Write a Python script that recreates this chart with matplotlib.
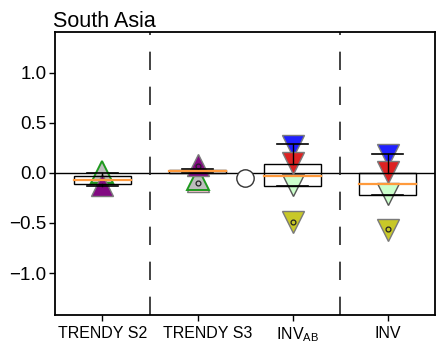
import matplotlib
matplotlib.use("Agg")
import matplotlib.pyplot as plt
import matplotlib.patches as mpatches
import matplotlib.transforms as mtransforms

plt.rcParams['font.family'] = ['Liberation Sans', 'DejaVu Sans']
plt.rcParams['mathtext.fontset'] = 'custom'
plt.rcParams['mathtext.rm'] = 'Liberation Sans'

# Categories and tick labels
categories = ['TRENDY S2', 'TRENDY S3', r'INV$_{\mathregular{AB}}$', 'INV']
cat_x = [1, 2, 3, 4]
ytick_vals = [-1.0, -0.5, 0.0, 0.5, 1.0]
ytick_labels = ['\u22121.0', '\u22120.5', '0.0', '0.5', '1.0']

# Box statistics per category
box_q1 = [-0.11, 0.0, -0.13, -0.22]
box_q3 = [-0.035, 0.025, 0.085, 0.0]
box_med = [-0.075, 0.013, -0.03, -0.115]
whisk_lo = [-0.135, -0.005, -0.13, -0.225]
whisk_hi = [0.0, 0.04, 0.285, 0.185]

# Up-triangle markers (land model runs)
up_x = [1, 2]
pink_y = [None, -0.08]
green_y = [0.005, -0.06]
purple_y = [-0.125, 0.08]

# Down-triangle markers (inversions)
down_x = [3, 4]
lightgreen_y = [-0.12, -0.215]
red_y = [0.095, 0.005]
blue_y = [0.27, 0.18]
olive_y = [-0.49, -0.575]

# Small open circles inside markers
dot_x = [2, 2, 3, 4]
dot_y = [0.065, -0.105, -0.495, -0.565]

# Large open circle between groups
circle_x = [2.5]
circle_y = [-0.055]

fig = plt.figure(figsize=(4.36, 3.44), dpi=100)
ax = fig.add_axes([0.126, 0.084, 0.872, 0.823])

ax.set_xlim(0.5, 4.5)
ax.set_ylim(-1.42, 1.405)

ax.axhline(0, color='black', lw=1.0, zorder=1)
for xv in (1.5, 3.5):
    ax.axvline(xv, color='#222222', lw=1.2, dashes=(11, 10), zorder=1)

ms = 15.5
edge = '#7a7a7a'

def tri(xs, ys, marker, face, ec=edge, mew=1.0, z=3):
    pts = [(x, y) for x, y in zip(xs, ys) if y is not None]
    if not pts:
        return
    px, py = zip(*pts)
    ax.plot(px, py, linestyle='none', marker=marker, ms=ms, mfc=face,
            mec=ec, mew=mew, zorder=z)

tri(up_x, pink_y, '^', '#ffc6d0', z=3)
tri(up_x, green_y, '^', '#bdbdbd', ec='#1f9a1f', mew=1.4, z=3.1)
tri(up_x, purple_y, '^', '#820a82', z=3.2)

tri(down_x, olive_y, 'v', '#c8c828', z=3)
tri(down_x, lightgreen_y, 'v', '#ccffcc', ec='#555555', z=3.1)
tri(down_x, blue_y, 'v', '#2020ff', z=3.2)
tri(down_x, red_y, 'v', '#dd2222', z=3.3)

ax.plot(dot_x, dot_y, linestyle='none', marker='o', ms=3.5, mfc='none',
        mec='#222222', mew=0.9, zorder=4)
ax.plot(circle_x, circle_y, linestyle='none', marker='o', ms=12.5,
        mfc='white', mec='#333333', mew=1.0, zorder=4)

# Boxes with whiskers and medians
bw = 0.6
cw = 0.32
for x, q1, q3, md, lo, hi in zip(cat_x, box_q1, box_q3, box_med, whisk_lo, whisk_hi):
    ax.add_patch(mpatches.Rectangle((x - bw / 2, q1), bw, q3 - q1, fill=False,
                                    ec='black', lw=1.0, zorder=5))
    ax.plot([x - bw / 2, x + bw / 2], [md, md], color='#ff9a3c', lw=1.6, zorder=5.5)
    ax.plot([x, x], [q3, hi], color='black', lw=1.0, zorder=5)
    ax.plot([x, x], [lo, q1], color='black', lw=1.0, zorder=5)
    ax.plot([x - cw / 2, x + cw / 2], [hi, hi], color='black', lw=1.2, zorder=5)
    ax.plot([x - cw / 2, x + cw / 2], [lo, lo], color='black', lw=1.2, zorder=5)

ax.set_xticks(cat_x)
ax.set_xticklabels(categories, fontsize=11.5)
ax.set_yticks(ytick_vals)
ax.set_yticklabels(ytick_labels, fontsize=13.5)
ax.tick_params(axis='both', length=4, width=1.0, pad=2)
ax.tick_params(axis='x', pad=3.5)
for s in ax.spines.values():
    s.set_linewidth(1.3)

# nudge a couple of category labels to the right
label_shift_px = [0, 10, 5, 0]
for lab, dx in zip(ax.get_xticklabels(), label_shift_px):
    if dx:
        lab.set_transform(lab.get_transform() +
                          mtransforms.ScaledTranslation(dx / 100, 0, fig.dpi_scale_trans))

ax.set_title('South Asia', loc='left', fontsize=15.5, pad=2, x=-0.005)

fig.savefig('out.png', dpi=100)
